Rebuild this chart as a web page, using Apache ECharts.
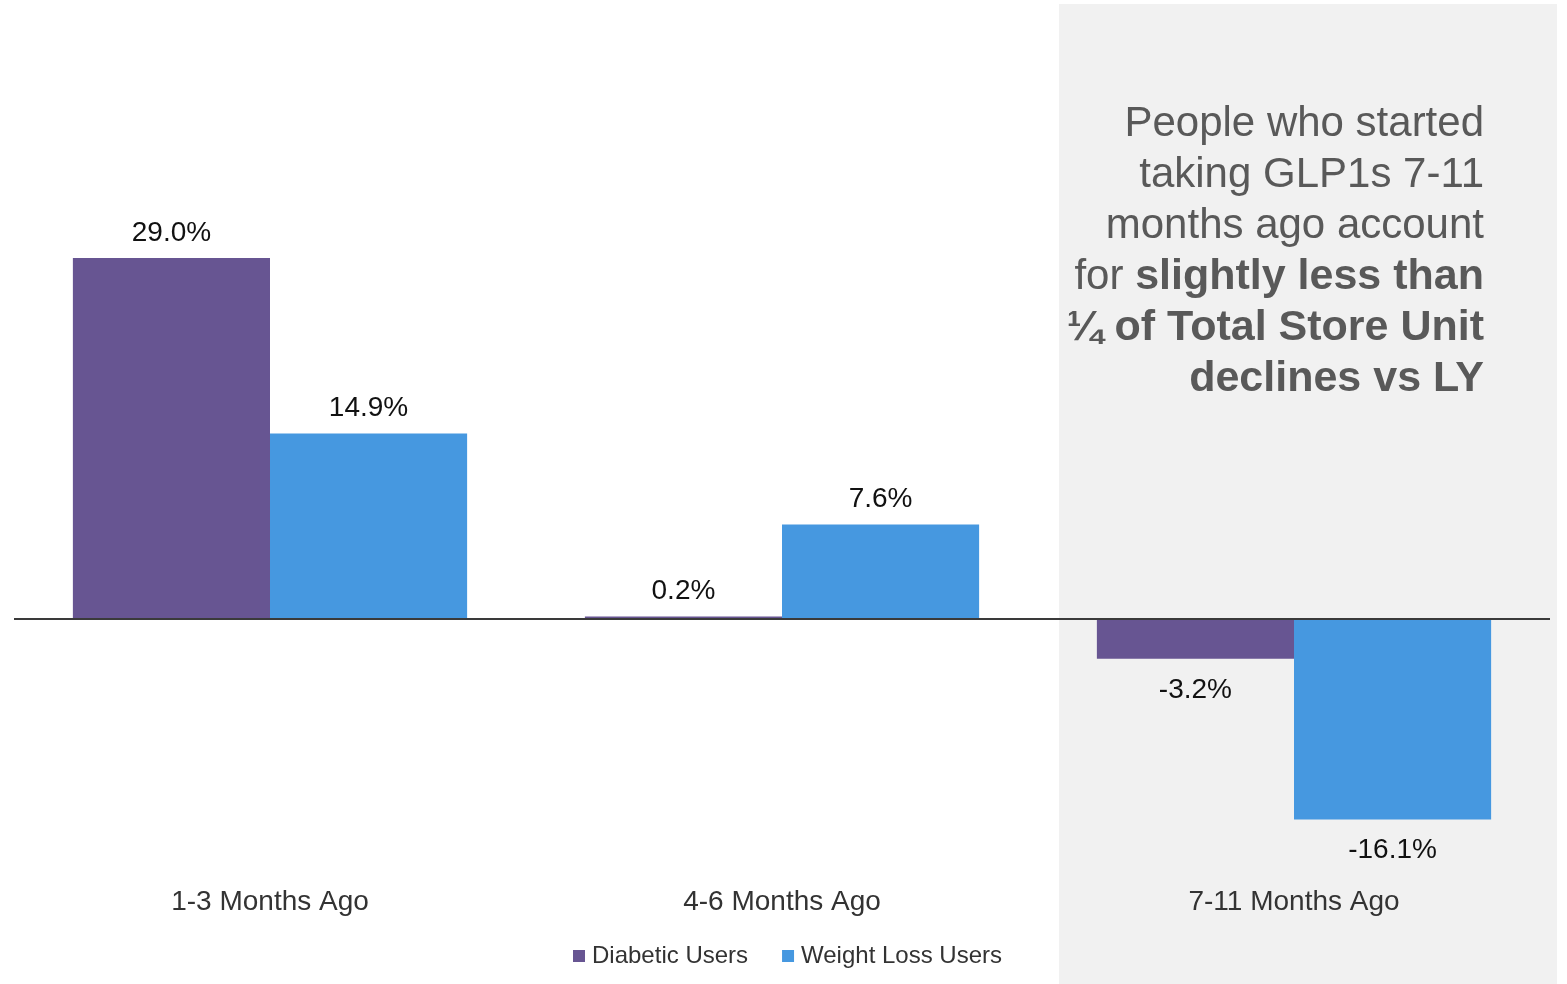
<!DOCTYPE html>
<html lang="en">
<head>
    <meta charset="utf-8">
    <title>GLP1 users</title>
    <script src="https://cdn.jsdelivr.net/npm/echarts@6/dist/echarts.min.js"></script>
    <style>
        html, body { margin: 0; padding: 0; background: #fff; }
        #chart { width: 1567px; height: 984px; }
    </style>
</head>
<body>
<div id="chart"></div>
<script type="text/javascript">
    var categories = ['1-3 Months Ago', '4-6 Months Ago', '7-11 Months Ago'];
    var diabeticUsers = [29.0, 0.2, -3.2];
    var weightLossUsers = [14.9, 7.6, -16.1];

    var FONT = '"Liberation Sans", Arial, sans-serif';

    // positive values get the label above the bar, negative ones below
    function withLabels(values) {
        return values.map(function (v) {
            return {
                value: v,
                label: v < 0 ? {position: 'bottom', distance: 17} : {position: 'top', distance: 11}
            };
        });
    }

    var myChart = echarts.init(document.getElementById('chart'));

    var option = {
        animation: false,
        backgroundColor: '#ffffff',
        textStyle: {fontFamily: FONT},
        graphic: [
            {
                type: 'rect',
                z: -10,
                silent: true,
                shape: {x: 1059, y: 4, width: 498, height: 980},
                style: {fill: '#f1f1f1'}
            },
            {
                type: 'text',
                z: 10,
                x: 1484,
                y: 99,
                style: {
                    text: 'People who started\ntaking GLP1s 7-11\nmonths ago account\nfor {b|slightly less than}\n{b|\u00bc of Total Store Unit}\n{b|declines vs LY}',
                    align: 'right',
                    verticalAlign: 'top',
                    fill: '#595959',
                    font: '42px ' + FONT,
                    lineHeight: 51,
                    rich: {
                        b: {
                            fontWeight: 'bold',
                            fontSize: 43,
                            fontFamily: FONT,
                            fill: '#595959',
                            lineHeight: 51
                        }
                    }
                }
            }
        ],
        legend: {
            data: ['Diabetic Users', 'Weight Loss Users'],
            bottom: 11,
            left: 568,
            icon: 'rect',
            itemWidth: 12,
            itemHeight: 12,
            itemGap: 34,
            textStyle: {fontSize: 24, color: '#333333', fontFamily: FONT, padding: [0, 0, 0, 2]}
        },
        grid: {
            left: 14,
            right: 17,
            top: 121,
            bottom: 116
        },
        xAxis: {
            type: 'category',
            data: categories,
            axisLine: {show: false, onZero: false},
            axisTick: {show: false},
            axisLabel: {fontSize: 28, color: '#333333', margin: 20, fontFamily: FONT}
        },
        yAxis: {
            type: 'value',
            min: -20,
            max: 40,
            show: false,
            splitLine: {show: false}
        },
        series: [
            {
                name: 'Diabetic Users',
                type: 'bar',
                data: withLabels(diabeticUsers),
                itemStyle: {color: '#675592'},
                barGap: '0%',
                barCategoryGap: '23%',
                label: {
                    show: true,
                    fontSize: 28,
                    color: '#111111',
                    fontFamily: FONT,
                    formatter: function (p) { return p.value.toFixed(1) + '%'; }
                },
                markLine: {
                    silent: true,
                    symbol: 'none',
                    label: {show: false},
                    lineStyle: {color: '#3a3a3a', width: 2, type: 'solid'},
                    data: [{yAxis: 0}]
                }
            },
            {
                name: 'Weight Loss Users',
                type: 'bar',
                data: withLabels(weightLossUsers),
                itemStyle: {color: '#4698e0'},
                barGap: '0%',
                barCategoryGap: '23%',
                label: {
                    show: true,
                    fontSize: 28,
                    color: '#111111',
                    fontFamily: FONT,
                    formatter: function (p) { return p.value.toFixed(1) + '%'; }
                }
            }
        ]
    };

    myChart.setOption(option);
</script>
</body>
</html>
